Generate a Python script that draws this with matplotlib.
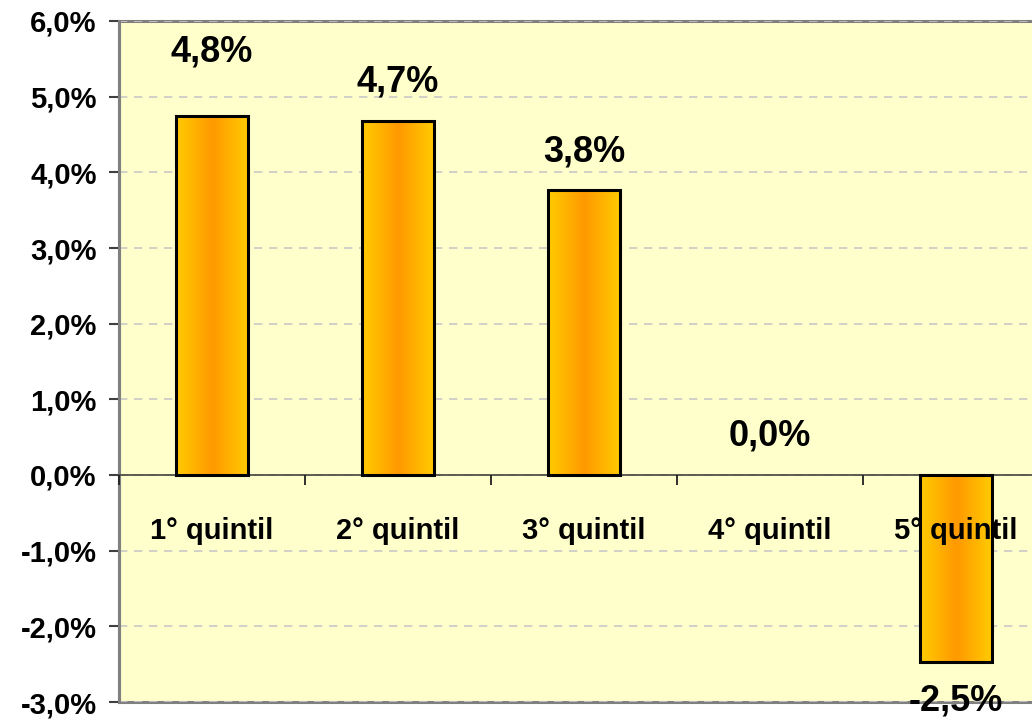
import numpy as np
import matplotlib
matplotlib.use("Agg")
import matplotlib.pyplot as plt
from matplotlib.colors import LinearSegmentedColormap
from matplotlib.ticker import FuncFormatter, FixedLocator

categories = ["1° quintil", "2° quintil", "3° quintil", "4° quintil", "5° quintil"]
values = [4.75, 4.68, 3.76, 0.0, -2.47]
labels = ["4,8%", "4,7%", "3,8%", "0,0%", "-2,5%"]
label_offsets = [46, 28, 28, 28, -28]  # points

plt.rcParams['font.family'] = ['Liberation Sans', 'DejaVu Sans']

fig = plt.figure(figsize=(10.32, 7.19), dpi=100)
ax = fig.add_axes([119/1032, 17/719, 930/1032, 681/719])
ax.set_facecolor('#FFFFCC')
ax.patch.set_edgecolor('#808080')
ax.patch.set_linewidth(2.2)

x = np.arange(len(categories))
width = 0.39
edge_w = [0 if v == 0 else 2.2 for v in values]
bars = ax.bar(x, values, width=width, facecolor='none', edgecolor='black',
              linewidth=edge_w, zorder=3)

cmap = LinearSegmentedColormap.from_list('g', ['#FFCC00', '#FF9900', '#FFCC00'])
grad = np.linspace(0, 1, 256).reshape(1, -1)
for b in bars:
    if b.get_height() == 0:
        continue
    x0 = b.get_x(); x1 = x0 + b.get_width()
    y0 = b.get_y(); y1 = y0 + b.get_height()
    im = ax.imshow(grad, cmap=cmap, aspect='auto', extent=[x0, x1, min(y0, y1), max(y0, y1)],
                   zorder=2, interpolation='bilinear')
    im.set_clip_path(b)

for xi, v, lab, off in zip(x, values, labels, label_offsets):
    ax.annotate(lab, (xi, v), xytext=(0, off), textcoords='offset points',
                ha='center', va='center', fontsize=26, fontweight='bold',
                clip_on=False, zorder=5, annotation_clip=False)

ax.set_xlim(-0.5, len(categories) - 0.5)
ax.set_ylim(-3, 6)
ax.set_yticks(np.arange(-3, 7, 1))
ax.yaxis.set_major_formatter(FuncFormatter(lambda v, p: f"{v:.1f}%".replace('.', ',')))
ax.grid(axis='y', color='#C8C8C8', linestyle=(0, (5, 4)), linewidth=1.2, zorder=0)
ax.set_axisbelow(True)

for s in ['top', 'right']:
    ax.spines[s].set_visible(False)
ax.spines['left'].set_color('#808080')
ax.spines['left'].set_linewidth(2.2)
ax.spines['bottom'].set_position(('data', 0))
ax.spines['bottom'].set_color('#505048')
ax.spines['bottom'].set_linewidth(1.3)

ax.tick_params(axis='y', direction='out', length=7, width=1.5, color='#404040',
               labelsize=21, pad=9)
for t in ax.get_yticklabels():
    t.set_fontweight('bold')

ax.set_xticks(x)
ax.set_xticklabels(categories, fontsize=21, fontweight='bold')
ax.tick_params(axis='x', which='major', length=0, pad=30)
ax.xaxis.set_minor_locator(FixedLocator(np.arange(-0.5, len(categories), 1)))
ax.tick_params(axis='x', which='minor', direction='out', length=7, width=1.3, color='#202020')
ax.xaxis.set_zorder(4)

fig.savefig('out.png', dpi=100, facecolor='white')
